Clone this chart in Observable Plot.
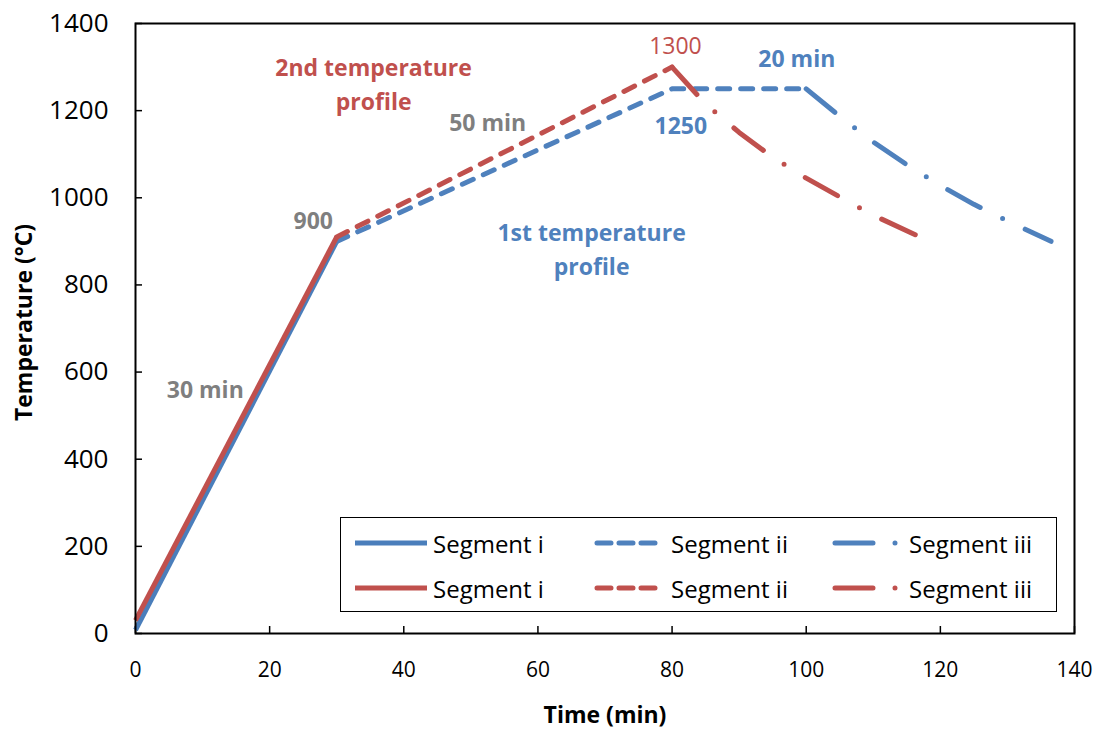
<!DOCTYPE html>
<html>
<head>
<meta charset="utf-8">
<script src="https://cdn.jsdelivr.net/npm/d3@7"></script>
<script src="https://cdn.jsdelivr.net/npm/@observablehq/plot@0.6"></script>
<style>
  html, body { margin: 0; padding: 0; background: white; }
  #wrap { position: relative; width: 1104px; height: 731px; font-family: "Open Sans", Lato, sans-serif; }
  #legend { position: absolute; left: 340px; top: 517px; width: 717px; height: 95px; border: 1.5px solid black; background: white; box-sizing: border-box; }
  .item { position: absolute; display: flex; align-items: center; height: 30px; font-size: 24px; color: black; }
  .item svg { overflow: visible; }
</style>
</head>
<body>
<div id="wrap"></div>
<script>
// ---- data ----
const xTicks = [0, 20, 40, 60, 80, 100, 120, 140];
const yTicks = [0, 200, 400, 600, 800, 1000, 1200, 1400];

const BLUE = "#4f81bd", BLUE_DARK = "#4a7ebb", RED = "#c0504d", GRAY = "#7f7f7f";

// 1st temperature profile (blue)
const p1SegITime = [0, 30];
const p1SegITemp = [8, 900];
const p1SegIITime = [30, 80, 100];
const p1SegIITemp = [900, 1250, 1250];
const p1SegIIITime = [100, 105, 110, 115, 120, 125, 130, 136.5];
const p1SegIIITemp = [1250, 1187, 1128, 1076, 1028, 985, 947, 900];

// 2nd temperature profile (red)
const p2SegITime = [0, 30];
const p2SegITemp = [30, 910];
const p2SegIITime = [30, 80];
const p2SegIITemp = [910, 1300];
const p2SegIIITime = [80, 85, 90, 95, 100, 105, 110, 117];
const p2SegIIITemp = [1300, 1215, 1150, 1093, 1045, 1002, 960, 910];

// annotations
const annoText = ["2nd temperature\nprofile", "1st temperature\nprofile", "50 min", "1300", "20 min", "1250", "900", "30 min"];
const annoX = [35.5, 68, 52.5, 80.5, 98.6, 81.3, 26.5, 10.4];
const annoY = [1261, 882, 1175, 1345, 1322, 1168, 950, 562];
const annoColor = [RED, BLUE, GRAY, RED, BLUE, BLUE, GRAY, GRAY];
const annoWeight = ["bold", "bold", "bold", "normal", "bold", "bold", "bold", "bold"];

const legendLabels = ["Segment i", "Segment ii", "Segment iii"];

// ---- build ----
const rows = (ts, vs) => ts.map((t, i) => ({t, T: vs[i]}));
const annos = annoText.map((s, i) => ({s, x: annoX[i], y: annoY[i], c: annoColor[i], w: annoWeight[i]}));

const SW = 5;
const DASH = "12,11";
const DASHDOT = "37,25,0,25";
const FONT = "'Open Sans', Lato, sans-serif";

const lineOpts = (color, dash) => ({x: "t", y: "T", stroke: color, strokeWidth: SW,
  strokeLinecap: dash ? "round" : "butt", strokeLinejoin: "round", strokeDasharray: dash || null});

const W = 1104, H = 731, ML = 135, MR = 30, MT = 23, MB = 98;
const frameW = W - ML - MR, frameH = H - MT - MB;
const xDomain = [0, 140], yDomain = [0, 1400];
const TICK = 7; // px, drawn inward
const tickLenX = TICK * (xDomain[1] - xDomain[0]) / frameW;
const tickLenY = TICK * (yDomain[1] - yDomain[0]) / frameH;

const chart = Plot.plot({
  width: W, height: H,
  marginLeft: ML, marginRight: MR, marginTop: MT, marginBottom: MB,
  style: {fontFamily: FONT, fontSize: "22px", color: "black", background: "white", overflow: "visible"},
  x: {domain: xDomain},
  y: {domain: yDomain},
  marks: [
    Plot.axisX({ticks: xTicks, tickSize: 0, tickPadding: 29, fontSize: 21, tickFormat: "d", label: null}),
    Plot.axisY({ticks: yTicks, tickSize: 0, tickPadding: 27, fontSize: 26, tickFormat: "d", label: null}),
    // inward tick marks
    Plot.ruleX(xTicks, {x: d => d, y1: yDomain[0], y2: yDomain[0] + tickLenY, stroke: "black", strokeWidth: 1.5}),
    Plot.ruleY(yTicks, {y: d => d, x1: xDomain[0], x2: xDomain[0] + tickLenX, stroke: "black", strokeWidth: 1.5}),
    Plot.text(["Temperature (°C)"], {frameAnchor: "left", textAnchor: "middle", dx: -111, dy: -6, rotate: -90, fontWeight: "bold", fontSize: 23}),
    Plot.text(["Time (min)"], {frameAnchor: "bottom", lineAnchor: "middle", dy: 82, fontWeight: "bold", fontSize: 23}),
    // blue profile
    Plot.line(rows(p1SegITime, p1SegITemp), lineOpts(BLUE_DARK, null)),
    Plot.line(rows(p1SegIITime, p1SegIITemp), lineOpts(BLUE, DASH)),
    Plot.line(rows(p1SegIIITime, p1SegIIITemp), lineOpts(BLUE, DASHDOT)),
    // red profile
    Plot.line(rows(p2SegITime, p2SegITemp), lineOpts(RED, null)),
    Plot.line(rows(p2SegIITime, p2SegIITemp), lineOpts(RED, DASH)),
    Plot.line(rows(p2SegIIITime, p2SegIIITemp), lineOpts(RED, DASHDOT)),
    // annotations
    Plot.text(annos.filter(d => d.w === "bold"), {x: "x", y: "y", text: "s", fill: "c", fontWeight: "bold", fontSize: 23, lineHeight: 1.5, dy: -2}),
    Plot.text(annos.filter(d => d.w !== "bold"), {x: "x", y: "y", text: "s", fill: "c", fontWeight: "normal", fontSize: 23, dy: -1}),
    Plot.frame({stroke: "black", strokeWidth: 2})
  ]
});

const wrap = document.getElementById("wrap");
wrap.appendChild(chart);

// legend (HTML overlay inside the plot area, as in the reference)
const legend = document.createElement("div");
legend.id = "legend";
wrap.appendChild(legend);
const colLeft = [14, 254, 492];
const rowTop = [10, 55];
const colors = [[BLUE_DARK, BLUE, BLUE], [RED, RED, RED]];
const dashes = [null, "14,8", "38,22,0,30"];
const widths = [72, 62, 66];
const gapAfter = [6, 14, 10];
colors.forEach((cs, r) => {
  legendLabels.forEach((lab, k) => {
    const c = cs[k];
    const it = document.createElement("div");
    it.className = "item";
    it.style.left = colLeft[k] + "px";
    it.style.top = rowTop[r] + "px";
    const w = widths[k];
    const svg = `<svg width="${w}" height="10"><line x1="${k ? 2 : 0}" y1="5" x2="${k ? w - 2 : w}" y2="5" stroke="${c}" stroke-width="${SW}" stroke-linecap="${k ? 'round' : 'butt'}" ${dashes[k] ? `stroke-dasharray="${dashes[k]}"` : ""}/></svg>`;
    it.innerHTML = svg + `<span style="margin-left:${gapAfter[k]}px">${lab}</span>`;
    legend.appendChild(it);
  });
});
</script>
</body>
</html>
